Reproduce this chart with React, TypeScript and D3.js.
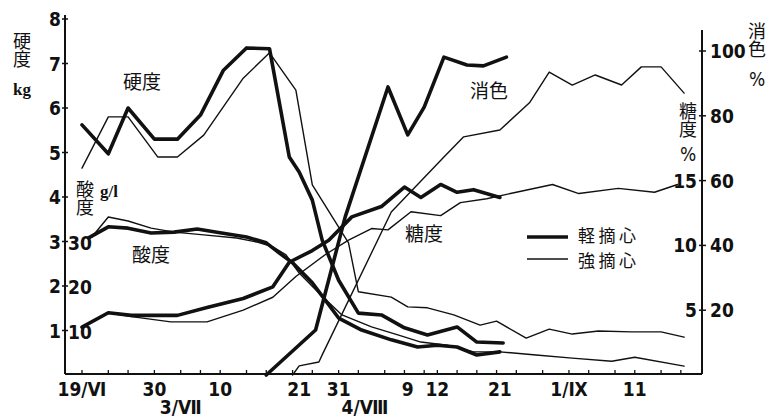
import React from 'react';
import * as d3 from 'd3';

const W = 770;
const H = 419;

// x = days from the first sample (19/VI)
const sampleDays = [0, 4, 7, 11, 15, 18, 21, 25, 28, 32, 35, 39, 42, 46, 49, 52, 54, 57, 60, 63, 66, 70, 74, 77, 81, 84, 88, 91];
const dateLabels: [number, string, number][] = [
  [0, '19/Ⅵ', 0], [11, '30', 0], [15, '3/Ⅶ', 1], [21, '10', 0], [33, '21', 0], [39, '31', 0],
  [43, '4/Ⅷ', 1], [49.5, '9', 0], [54, '12', 0], [63.5, '21', 0], [74, '1/Ⅸ', 0], [84, '11', 0],
];
const hardTicks = [1, 2, 3, 4, 5, 6, 7, 8];
const acidTicks = [10, 20, 30];
const colorTicks = [20, 40, 60, 80, 100];
const sugarTicks = [5, 10, 15];
const legendNames = ['軽摘心', '強摘心'];

// 硬度 kg  (thick = 軽摘心, thin = 強摘心)
const hardLight: [number, number][] = [
  [0, 5.62], [4, 4.97], [7, 6.0], [11, 5.3], [14.5, 5.3], [18, 5.84], [21.5, 6.85], [25, 7.35],
  [28.5, 7.33], [31.5, 4.9], [33, 4.56], [35, 3.93], [36.5, 3.03], [39, 2.13], [42, 1.39],
  [45.5, 1.35], [49, 1.06], [52.5, 0.9], [57, 1.08], [60, 0.74], [64, 0.72],
];
const hardStrong: [number, number][] = [
  [0, 4.65], [4, 5.8], [7, 5.8], [11.5, 4.9], [14.5, 4.9], [18.5, 5.39], [24.5, 6.67], [28.5, 7.24],
  [32.5, 6.4], [35, 4.27], [40.5, 2.97], [42, 1.87], [47, 1.75], [49.5, 1.53], [52.5, 1.51],
  [56.5, 1.35], [60.5, 1.12], [63, 1.21], [67.5, 0.83], [71, 1.03], [74.5, 0.92], [78.5, 0.99],
  [83.5, 0.97], [88, 0.97], [91.5, 0.85],
];

// 酸度 g/l
const acidLight: [number, number][] = [
  [1, 30.8], [4, 33.3], [7, 33.0], [10.5, 31.9], [14, 32.1], [17.5, 32.8], [20.5, 32.1], [25, 31.0],
  [28, 29.7], [30, 27.4], [32, 25.2], [35, 20.7], [39, 12.8], [42.5, 10.1], [47, 7.9], [51, 6.3],
  [54, 6.7], [57, 6.3], [60, 4.5], [63.5, 5.2],
];
const acidStrong: [number, number][] = [
  [1.5, 31.0], [4, 35.5], [7, 34.6], [10.5, 33.0], [14, 32.1], [18.5, 31.5], [23.5, 30.8], [26.5, 29.9],
  [29, 28.8], [31, 27.0], [33, 22.9], [36, 18.4], [39.5, 13.5], [44, 10.8], [48, 9.0], [51.5, 7.4],
  [55.5, 6.7], [59.5, 5.2], [63.5, 5.2], [69, 4.5], [74.5, 3.8], [80.5, 3.1], [84, 4.0], [91.5, 2.0],
];

// 糖度 %
const sugarLight: [number, number][] = [
  [0, 3.7], [4, 4.8], [7.5, 4.6], [14.5, 4.6], [19, 5.2], [24.5, 5.9], [29, 6.8], [31.5, 8.7],
  [35, 9.6], [37.5, 10.4], [41, 12.2], [45.5, 13.0], [49, 14.5], [51.5, 13.7], [54.5, 14.7],
  [57, 14.1], [59.5, 14.3], [63.5, 13.7],
];
const sugarStrong: [number, number][] = [
  [0, 3.7], [4, 4.8], [7.5, 4.5], [13.5, 4.1], [19, 4.1], [24.5, 5.0], [29, 6.0], [32.5, 7.6],
  [37, 9.3], [40.5, 10.4], [44, 11.3], [46.5, 11.2], [50, 12.6], [54.5, 12.3], [57.5, 13.3],
  [61.5, 13.6], [66, 14.1], [71.5, 14.7], [75.5, 14.0], [81.5, 14.4], [87, 14.1], [90.5, 14.7],
];

// 消色 %
const colorLight: [number, number][] = [
  [28, 0], [35.5, 13.9], [40, 48.8], [46.5, 88.9], [49.5, 74.1], [52, 82.7], [55, 98.1],
  [58.5, 95.7], [61, 95.4], [64.5, 98.1],
];
const colorStrong: [number, number][] = [
  [32, 0], [33, 2.8], [36, 4.0], [36.5, 6.2], [47, 50.3], [55, 67.3], [58, 73.5], [63.5, 75.6],
  [68, 84.0], [71, 93.5], [74.5, 89.5], [78, 92.6], [82, 89.5], [85, 95.1], [88, 95.1], [91.5, 87.0],
];

const numFont = "'Liberation Sans Narrow', 'DejaVu Sans Condensed', 'Noto Sans CJK JP', sans-serif";
const cjkFont = "'Noto Sans CJK JP', sans-serif";
const serifFont = "'Liberation Serif', 'DejaVu Serif', serif";

export default function App() {
  const left = 65;
  const right = 702;
  const base = 374;

  const x = d3.scaleLinear().domain([0, 92]).range([82, 687.4]);
  const yHard = d3.scaleLinear().domain([0, 8]).range([375, 19]);
  const yAcid = d3.scaleLinear().domain([0, 80]).range([375, 19]);
  const yColor = d3.scaleLinear().domain([0, 100]).range([375, 51]);
  const ySugar = d3.scaleLinear().domain([0, 25]).range([375, 51]);

  const mk = (ys: d3.ScaleLinear<number, number>) =>
    d3.line<[number, number]>().x((d) => x(d[0])).y((d) => ys(d[1]));

  const series = [
    { data: hardLight, ys: yHard, thick: true },
    { data: hardStrong, ys: yHard, thick: false },
    { data: acidLight, ys: yAcid, thick: true },
    { data: acidStrong, ys: yAcid, thick: false },
    { data: sugarLight, ys: ySugar, thick: true },
    { data: sugarStrong, ys: ySugar, thick: false },
    { data: colorLight, ys: yColor, thick: true },
    { data: colorStrong, ys: yColor, thick: false },
  ];

  const numStyle = { fontFamily: numFont, fontWeight: 700, fontSize: 19 } as const;
  const cjkStyle = { fontFamily: cjkFont, fontSize: 19 } as const;
  const vert = { fontFamily: cjkFont, fontSize: 18, writingMode: 'vertical-rl', textOrientation: 'upright' } as const;

  return (
    <svg width={W} height={H} style={{ position: 'absolute', left: 0, top: 0, background: '#fff' }}>
      <rect width={W} height={H} fill="#fff" />
      <g stroke="#111" fill="none" strokeLinejoin="round" strokeLinecap="round">
        {series.map((s, i) => (
          <path key={i} d={mk(s.ys)(s.data) || ''} strokeWidth={s.thick ? 3.6 : 1.4} />
        ))}
      </g>

      {/* axes */}
      <g stroke="#111" strokeWidth={2} fill="none">
        <line x1={left} y1={15} x2={left} y2={base} />
        <line x1={right} y1={30} x2={right} y2={base} />
        <line x1={left} y1={base} x2={right} y2={base} />
        {hardTicks.map((t) => (
          <line key={'h' + t} x1={left - 3} x2={left + 3} y1={yHard(t)} y2={yHard(t)} strokeWidth={1.5} />
        ))}
        {colorTicks.map((t) => (
          <line key={'c' + t} x1={right - 3} x2={right + 4} y1={yColor(t)} y2={yColor(t)} strokeWidth={1.5} />
        ))}
        {sampleDays.map((d) => (
          <line key={'s' + d} x1={x(d)} x2={x(d)} y1={base} y2={base - 4} strokeWidth={1.3} />
        ))}
      </g>

      <g fill="#111" style={numStyle}>
        {hardTicks.map((t) => (
          <text key={'hl' + t} x={left - 4} y={yHard(t) + 7} textAnchor="end">{t}</text>
        ))}
        {acidTicks.map((t) => (
          <text key={'al' + t} x={left + 3} y={yAcid(t) + 8} textAnchor="start">{t}</text>
        ))}
        {colorTicks.map((t) => (
          <text key={'cl' + t} x={right + 8} y={yColor(t) + 7} textAnchor="start">{t}</text>
        ))}
        {sugarTicks.map((t) => (
          <text key={'sl' + t} x={right - 5} y={ySugar(t) + 7} textAnchor="end">{t}</text>
        ))}
        {dateLabels.map(([d, s, row]) => (
          <text key={s + d} x={x(d)} y={row ? 414 : 396} textAnchor="middle">{s}</text>
        ))}
      </g>

      {/* in-chart labels */}
      <g fill="#111" style={cjkStyle}>
        <text x={123} y={89}>硬度</text>
        <text x={132} y={262}>酸度</text>
        <text x={405} y={241}>糖度</text>
        <text x={470} y={98}>消色</text>
      </g>
      <g fill="#111" style={{ fontFamily: cjkFont, fontSize: 17, letterSpacing: 3.5 }}>
        {legendNames.map((n, i) => (
          <text key={n} x={578} y={242 + i * 25}>{n}</text>
        ))}
      </g>
      <g fill="#111" style={vert}>
        <text x={22} y={32}>硬度</text>
        <text x={85} y={180}>酸度</text>
        <text x={757} y={22}>消色</text>
        <text x={688} y={102}>糖度</text>
      </g>
      <g fill="#111" style={{ fontFamily: serifFont, fontWeight: 700, fontSize: 17 }}>
        <text x={13} y={95}>kg</text>
        <text x={100} y={197}>g/l</text>
      </g>
      <g fill="#111" style={{ fontFamily: numFont, fontSize: 19 }}>
        <text x={757} y={86} textAnchor="middle">%</text>
        <text x={688} y={161} textAnchor="middle">%</text>
      </g>
      <g stroke="#111" fill="none">
        {legendNames.map((n, i) => (
          <line key={n} x1={527} x2={568} y1={237 + i * 22} y2={237 + i * 22} strokeWidth={i === 0 ? 3.6 : 1.4} />
        ))}
      </g>
    </svg>
  );
}
